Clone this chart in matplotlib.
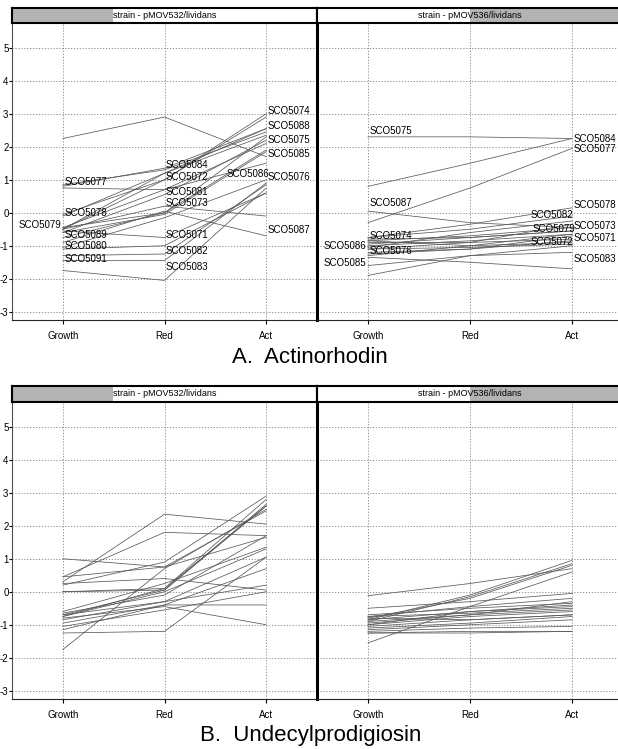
import matplotlib.pyplot as plt
import numpy as np
from matplotlib.patches import Rectangle

plt.rcParams['font.family'] = ['Liberation Sans', 'DejaVu Sans']
plt.rcParams['axes.unicode_minus'] = False

W, H = 618, 749

stages = ["Growth", "Red", "Act"]
genes = ["SCO%d" % n for n in range(5071, 5092)]

# A. Actinorhodin -- one row per gene (SCO5071..SCO5091), values at Growth / Red / Act
act_532 = [
    [-0.55, -0.75, 0.6], [-0.5, 1.0, 2.9], [-0.5, 0.2, -0.1], [-0.05, 1.0, 3.0],
    [-0.45, 0.7, 2.1], [-1.05, -0.15, 1.0], [0.85, 1.3, 2.45], [-0.1, 1.2, 2.35],
    [-0.45, 0.0, 1.9], [-1.1, -1.0, 0.6], [-0.6, 0.55, 2.2], [-1.3, -1.25, 0.85],
    [-1.75, -2.05, 0.75], [0.8, 1.35, 2.55], [2.25, 2.9, 1.7], [-0.6, -0.05, 1.85],
    [-0.9, 0.05, -0.7], [-0.5, 1.2, 2.55], [-0.75, 0.0, 2.3], [0.75, 0.7, 1.5],
    [-1.45, -1.45, 0.9],
]
act_536 = [
    [-0.9, -0.9, -0.8], [-1.1, -1.05, -0.95], [-0.85, -0.7, -0.45], [-0.8, -0.75, -0.55],
    [2.3, 2.3, 2.25], [-1.25, -1.1, -0.7], [-0.3, 0.75, 1.95], [-0.75, -0.35, 0.15],
    [-0.95, -0.75, -0.55], [-1.0, -0.85, -0.65], [-1.3, -1.0, -0.65], [-0.75, -0.5, -0.1],
    [-1.35, -1.5, -1.7], [0.8, 1.5, 2.25], [-1.6, -1.3, -1.2], [-1.1, -0.9, -0.35],
    [0.05, -0.3, -0.45], [-1.9, -1.3, -1.0], [-0.85, -1.0, -0.9], [-1.05, -0.6, -0.25],
    [-1.2, -1.1, -0.85],
]

# B. Undecylprodigiosin
red_532 = [
    [0.3, 2.35, 2.05], [0.45, 1.8, 1.7], [0.45, 0.75, 1.65], [1.0, 0.75, 2.45],
    [0.2, 0.9, 2.9], [0.0, 0.05, 2.65], [0.0, 0.1, 2.8], [-0.7, 0.05, 2.6],
    [-0.75, 0.1, 2.6], [-0.6, 0.25, 1.35], [-0.65, -0.1, 1.7], [-0.85, -0.3, 1.05],
    [-0.95, -0.4, 0.7], [-1.05, -0.55, 0.0], [-1.15, -0.4, -0.4], [-1.25, -1.2, 1.05],
    [-1.75, 0.7, 2.5], [-0.8, -0.45, -1.0], [-0.75, 0.0, 1.3], [0.25, 0.4, 0.05],
    [-0.7, -0.3, 0.2],
]
red_536 = [
    [-0.12, 0.25, 0.7], [-0.85, -0.1, 0.95], [-0.9, -0.15, 0.85], [-0.8, -0.2, 0.8],
    [-1.55, -0.45, 0.6], [-0.5, -0.3, -0.05], [-0.75, -0.45, -0.2], [-0.7, -0.5, -0.35],
    [-0.85, -0.6, -0.45], [-0.9, -0.7, -0.55], [-1.0, -0.75, -0.6], [-1.05, -0.85, -0.7],
    [-0.8, -0.85, -0.7], [-1.1, -0.95, -0.75], [-1.2, -1.1, -1.05], [-1.25, -1.25, -1.2],
    [-1.25, -1.2, -1.2], [-0.95, -0.7, -0.3], [-1.0, -0.6, -0.4], [-0.75, -0.65, -0.5],
    [-1.15, -1.0, -0.85],
]

# gene labels: (gene, stage position, alignment, vertical nudge)
act_532_labels = [
    ("SCO5077", 0, "left", 0.0), ("SCO5078", 0, "left", 0.0), ("SCO5079", 0, "right", 0.0),
    ("SCO5089", 0, "left", 0.0), ("SCO5080", 0, "left", 0.0), ("SCO5091", 0, "left", -0.05),
    ("SCO5084", 1, "left", 0.0), ("SCO5072", 1, "left", 0.0), ("SCO5081", 1, "left", 0.0),
    ("SCO5073", 1, "left", 0.0), ("SCO5071", 1, "left", 0.0), ("SCO5082", 1, "left", 0.0),
    ("SCO5083", 1, "left", 0.3), ("SCO5086", 1.6, "left", 0.0),
    ("SCO5074", 2, "left", 0.0), ("SCO5088", 2, "left", 0.0), ("SCO5075", 2, "left", 0.0),
    ("SCO5085", 2, "left", 0.0), ("SCO5076", 2, "left", 0.0), ("SCO5087", 2, "left", 0.1),
]
act_536_labels = [
    ("SCO5075", 0, "left", 0.1), ("SCO5087", 0, "left", 0.15), ("SCO5074", 0, "left", 0.0),
    ("SCO5076", 0, "left", 0.0), ("SCO5086", 0, "right", 0.0), ("SCO5085", 0, "right", 0.0),
    ("SCO5082", 1.58, "left", 0.1), ("SCO5079", 1.6, "left", 0.05), ("SCO5072", 1.58, "left", 0.0),
    ("SCO5084", 2, "left", -0.1), ("SCO5077", 2, "left", -0.1), ("SCO5078", 2, "left", 0.0),
    ("SCO5073", 2, "left", -0.05), ("SCO5071", 2, "left", -0.05), ("SCO5083", 2, "left", 0.2),
]


def px_axes(fig, x0, y0, x1, y1):
    return fig.add_axes([x0 / W, 1 - y1 / H, (x1 - x0) / W, (y1 - y0) / H])


def draw_panel(ax, values, labels, first):
    x = np.arange(len(stages))
    for vals in values:
        ax.plot(x, vals, color='0.35', lw=0.55)
    for gene, pos, ha, nudge in labels:
        vals = values[genes.index(gene)]
        y = np.interp(pos, x, vals) + nudge
        dx = 1.0 if ha == "left" else -1.0
        ax.annotate(gene, (pos, y), xytext=(dx, 0), textcoords='offset points',
                    ha=ha, va='baseline', fontsize=7)
    ax.set_xlim(-0.5, 2.5)
    ax.set_ylim(-3.25, 5.75)
    ax.set_xticks(x)
    ax.set_xticklabels(stages, fontsize=7)
    ax.set_yticks(range(-3, 6))
    ax.grid(True, color='0.5', lw=0.6, ls=(0, (1.5, 2)))
    ax.tick_params(axis='x', length=3, pad=5)
    ax.spines['top'].set_visible(False)
    ax.spines['right'].set_visible(False)
    ax.spines['bottom'].set_linestyle((0, (1, 1)))
    ax.spines['bottom'].set_color('0.15')
    if first:
        ax.tick_params(axis='y', length=2, pad=0.5, labelsize=7)
        ax.spines['left'].set_color('0.3')
        ax.spines['left'].set_linewidth(0.8)
    else:
        ax.tick_params(axis='y', length=0, labelleft=False)
        ax.spines['left'].set_color('black')
        ax.spines['left'].set_linewidth(2.2)


def draw_header(fig, x0, x1, y0, y1, text, shade_from, shade_to):
    hax = px_axes(fig, x0, y0, x1, y1)
    hax.set_xlim(0, 1)
    hax.set_ylim(0, 1)
    hax.add_patch(Rectangle((shade_from, 0), shade_to - shade_from, 1,
                            facecolor='0.7', edgecolor='none'))
    hax.text(0.5, 0.5, text, ha='center', va='center', fontsize=6.5)
    hax.set_xticks([])
    hax.set_yticks([])
    for s in hax.spines.values():
        s.set_linewidth(1.5)
        s.set_color('black')


fig = plt.figure(figsize=(W / 100, H / 100), dpi=100)

panels = [
    (23, 320, 8, act_532, act_536, act_532_labels, act_536_labels),
    (402, 699, 386, red_532, red_536, [], []),
]
for top, bottom, htop, left_vals, right_vals, left_labels, right_labels in panels:
    ax1 = px_axes(fig, 12, top, 317, bottom)
    draw_panel(ax1, left_vals, left_labels, True)
    ax2 = px_axes(fig, 317, top, 623, bottom)
    draw_panel(ax2, right_vals, right_labels, False)
    draw_header(fig, 12, 317, htop, top, "strain - pMOV532/lividans", 0.0, 0.33)
    draw_header(fig, 317, 623, htop, top, "strain - pMOV536/lividans", 0.5, 1.0)

fig.text(232 / W, 1 - 358 / H, "A.  Actinorhodin", fontsize=16, ha='left', va='center')
fig.text(200 / W, 1 - 735 / H, "B.  Undecylprodigiosin", fontsize=16, ha='left', va='center')

fig.savefig("out.png", dpi=100)
